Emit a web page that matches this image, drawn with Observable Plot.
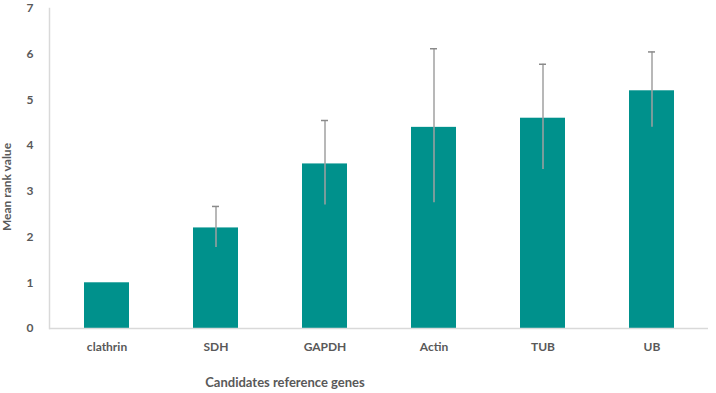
<!DOCTYPE html>
<html>
<head>
<meta charset="utf-8">
<script src="https://cdn.jsdelivr.net/npm/d3@7"></script>
<script src="https://cdn.jsdelivr.net/npm/@observablehq/plot@0.6"></script>
<style>
  html, body { margin: 0; padding: 0; background: #fff; }
  #chart { position: relative; width: 716px; height: 393px; overflow: hidden; }
  #chart svg { font-family: Lato, "Open Sans", sans-serif; }
</style>
</head>
<body>
<div id="chart"></div>
<script>
const genes = ["clathrin", "SDH", "GAPDH", "Actin", "TUB", "UB"];
const meanRank = [1.0, 2.2, 3.6, 4.4, 4.6, 5.2];
const errLow = [1.0, 1.77, 2.7, 2.75, 3.48, 4.4];
const errHigh = [1.0, 2.67, 4.55, 6.12, 5.78, 6.05];
const yTicks = [0, 1, 2, 3, 4, 5, 6, 7];

const data = genes.map((g, i) => ({gene: g, value: meanRank[i], lo: errLow[i], hi: errHigh[i]}));
const errData = data.filter(d => d.hi > d.lo);

const svg = Plot.plot({
  width: 716,
  height: 393,
  marginLeft: 49,
  marginRight: 8,
  marginTop: 8,
  marginBottom: 65,
  style: {fontFamily: "Lato, 'Open Sans', sans-serif", color: "#595959", background: "#fff"},
  x: {domain: genes, paddingInner: 0.59, paddingOuter: 0.295, label: null},
  y: {domain: [0, 7], ticks: yTicks, label: null},
  marks: [
    Plot.frame({anchor: "left", stroke: "#d9d9d9", strokeWidth: 1.5}),
    Plot.barY(data, {x: "gene", y: "value", fill: "#00918c"}),
    Plot.ruleX(errData, {x: "gene", y1: "lo", y2: "hi", stroke: "#a0a0a0", strokeWidth: 1.5}),
    Plot.tickY(errData, {x: "gene", y: "hi", stroke: "#8a8a8a", strokeWidth: 1.5, insetLeft: 19, insetRight: 19}),
    Plot.ruleY([0], {stroke: "#d9d9d9", strokeWidth: 1.5}),
    Plot.axisX({tickSize: 0, tickPadding: 14, fontSize: 12, fontWeight: "bold", fill: "#595959", label: null}),
    Plot.axisY({ticks: yTicks, tickFormat: d3.format("d"), tickSize: 0, tickPadding: 16, fontSize: 12, fontWeight: "bold", fill: "#595959", label: null})
  ]
});

const ns = "http://www.w3.org/2000/svg";
const xt = document.createElementNS(ns, "text");
xt.setAttribute("x", 285);
xt.setAttribute("y", 387);
xt.setAttribute("text-anchor", "middle");
xt.setAttribute("font-size", 13);
xt.setAttribute("font-weight", "bold");
xt.setAttribute("fill", "#595959");
xt.textContent = "Candidates reference genes";
svg.appendChild(xt);
const yt = document.createElementNS(ns, "text");
yt.setAttribute("transform", "translate(11,187) rotate(-90)");
yt.setAttribute("text-anchor", "middle");
yt.setAttribute("font-size", 12);
yt.setAttribute("font-weight", "bold");
yt.setAttribute("fill", "#595959");
yt.textContent = "Mean rank value";
svg.appendChild(yt);

document.getElementById("chart").appendChild(svg);
</script>
</body>
</html>
